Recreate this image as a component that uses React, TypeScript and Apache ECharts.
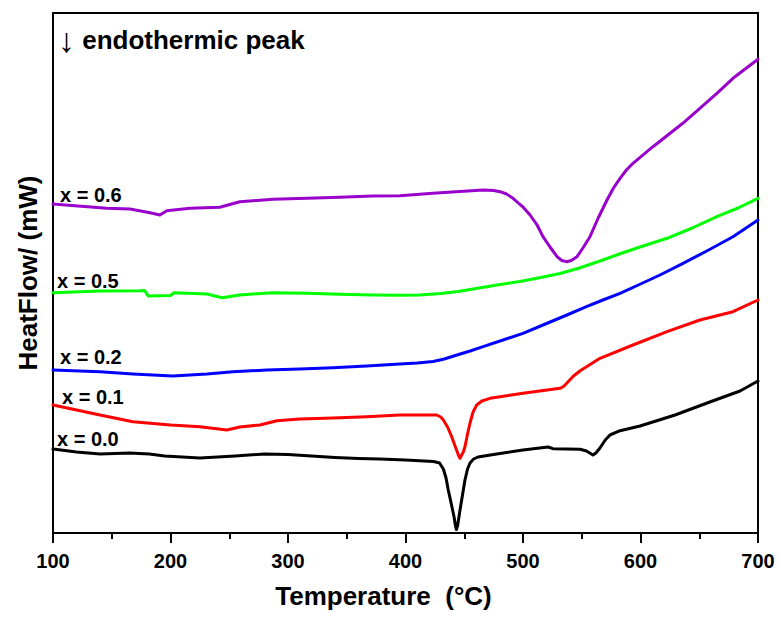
import React, { useEffect, useRef } from "react";
import * as echarts from "echarts";

// Temperature (°C) / heat flow (arbitrary offset units, mW)
const x00: [number, number][] = [
  [100, 8.4], [120, 8.1], [140, 7.9], [165, 8.0], [182, 7.9], [195, 7.7], [210, 7.6], [225, 7.5],
  [240, 7.6], [255, 7.7], [280, 7.9], [300, 7.85], [320, 7.7], [340, 7.55], [360, 7.45], [378, 7.4],
  [400, 7.3], [424, 7.15], [429, 7.0], [432.2, 6.4], [434.5, 5.5], [436.4, 4.3], [439, 2.9],
  [441.3, 1.63], [442.4, 0.8], [443.3, 0.35], [444.3, 0.7], [446.4, 2.3], [448.5, 3.8],
  [450.6, 5.3], [452.8, 6.4], [454.9, 7.0], [458, 7.4], [461.7, 7.6], [477.6, 7.9], [500, 8.3],
  [521.3, 8.6], [525.5, 8.43], [548.5, 8.37], [554, 8.2], [559.6, 7.8], [562, 8.0], [565.5, 8.5],
  [570, 9.3], [574, 9.8], [582.6, 10.23], [599.6, 10.7], [629.4, 11.8], [659, 13.1], [684.7, 14.2],
  [700, 15.2],
];
const x01: [number, number][] = [
  [100, 12.8], [120, 12.3], [140, 11.8], [168, 11.13], [200, 10.8], [225, 10.63], [248, 10.3],
  [259, 10.6], [276, 10.8], [290.6, 11.23], [310, 11.4], [338, 11.5], [367, 11.63], [395, 11.8],
  [426.6, 11.8], [430, 11.6], [432.2, 11.3], [435.8, 10.6], [439.3, 9.63], [442.5, 8.6],
  [445, 7.8], [446.4, 7.47], [447.8, 7.8], [449.2, 8.1], [450.6, 8.63], [452.8, 9.9], [454.9, 11.0],
  [457.5, 12.1], [460.6, 12.8], [465, 13.2], [471.9, 13.47], [500, 13.97], [531.5, 14.47],
  [534.5, 14.65], [537.2, 14.97], [543, 15.7], [549, 16.25], [565.5, 17.47], [593.6, 18.8],
  [622.6, 20.13], [650.6, 21.3], [678.7, 22.13], [700, 23.3],
];
const x02: [number, number][] = [
  [100, 16.3], [140, 16.13], [168, 15.9], [202, 15.7], [231, 15.9], [253, 16.13], [282, 16.3],
  [310, 16.4], [338, 16.53], [367, 16.7], [395, 16.9], [410, 17.0], [423.4, 17.15], [433, 17.4],
  [443.8, 17.8], [455, 18.2], [466, 18.63], [483, 19.3], [500, 19.97], [518, 20.85], [537.4, 21.8],
  [554, 22.63], [568, 23.3], [582.6, 23.97], [600, 24.9], [616.6, 25.8], [636.2, 26.97],
  [658, 28.3], [678.7, 29.63], [700, 31.3],
];
const x05: [number, number][] = [
  [100, 24.03], [140, 24.2], [174, 24.23], [178, 24.25], [181, 23.7], [200, 23.75], [203, 24.03],
  [231, 23.9], [243.8, 23.53], [259, 23.8], [287, 24.03], [316, 23.97], [344, 23.87], [372, 23.8],
  [395, 23.78], [412, 23.8], [430, 23.95], [445, 24.15], [460, 24.45], [478, 24.8], [497.4, 25.15],
  [515, 25.55], [531.5, 25.95], [548, 26.5], [565.5, 27.2], [582, 27.9], [599.6, 28.6],
  [622.6, 29.47], [644, 30.5], [665, 31.63], [683, 32.5], [700, 33.47],
];
const x06: [number, number][] = [
  [100, 32.9], [145.7, 32.47], [165.5, 32.4], [182.6, 32.03], [191, 31.8], [196.8, 32.23],
  [216.6, 32.47], [242, 32.57], [259, 33.13], [287, 33.37], [316, 33.47], [344, 33.57], [372, 33.7],
  [395.3, 33.73], [423.4, 33.97], [466, 34.3], [475, 34.25], [480.4, 34.13], [486, 33.9], [491.5, 33.47],
  [496, 33.0], [500, 32.6], [506, 31.8], [512, 30.8], [517, 29.63], [523, 28.6], [529, 27.63],
  [533, 27.25], [537.4, 27.13], [541, 27.25], [546, 27.63], [551, 28.5], [557, 29.63], [564, 31.5],
  [571.5, 33.3], [577, 34.5], [582.6, 35.47], [588, 36.3], [593.6, 36.97], [610.6, 38.63],
  [636, 40.97], [665, 43.97], [678.7, 45.47], [700, 47.37],
];

const seriesNames = ["x = 0.0", "x = 0.1", "x = 0.2", "x = 0.5", "x = 0.6"];
const seriesData = [x00, x01, x02, x05, x06];
const seriesColors = ["#000000", "#ff0000", "#0000ff", "#00ff00", "#9900cc"];
const labelPos: [number, number][] = [[57, 439], [62, 397], [60, 357], [57, 281], [60, 195]];

const FONT = '"Liberation Sans", Arial, sans-serif';

export default function App() {
  const ref = useRef<HTMLDivElement>(null);
  useEffect(() => {
    if (!ref.current) return;
    const chart = echarts.init(ref.current, undefined, { renderer: "svg" });
    const axisLine = { show: true, onZero: false, lineStyle: { color: "#000", width: 2 } };
    chart.setOption({
      animation: false,
      backgroundColor: "#ffffff",
      grid: { left: 53, right: 23, top: 13, bottom: 84, containLabel: false },
      xAxis: [
        {
          type: "value",
          min: 100,
          max: 700,
          interval: 100,
          position: "bottom",
          name: "Temperature  (°C)",
          nameLocation: "middle",
          nameGap: 50,
          nameTextStyle: {
            fontFamily: FONT,
            fontWeight: "bold",
            fontSize: 26,
            color: "#000",
            padding: [0, 44, 0, 0],
          },
          axisLine,
          axisTick: { show: true, inside: false, length: 10, lineStyle: { color: "#000", width: 2 } },
          minorTick: { show: true, splitNumber: 2, length: 6, lineStyle: { color: "#000", width: 2 } },
          axisLabel: { fontFamily: FONT, fontWeight: "bold", fontSize: 20, color: "#000", margin: 18 },
          splitLine: { show: false },
        },
        {
          type: "value",
          min: 100,
          max: 700,
          interval: 100,
          position: "top",
          axisLine,
          axisTick: { show: false },
          axisLabel: { show: false },
          splitLine: { show: false },
        },
      ],
      yAxis: [
        {
          type: "value",
          min: 0,
          max: 52,
          position: "left",
          name: "HeatFlow/ (mW)",
          nameLocation: "middle",
          nameGap: 12,
          nameTextStyle: { fontFamily: FONT, fontWeight: "bold", fontSize: 26, color: "#000" },
          axisLine,
          axisTick: { show: false },
          axisLabel: { show: false },
          splitLine: { show: false },
        },
        {
          type: "value",
          min: 0,
          max: 52,
          position: "right",
          axisLine,
          axisTick: { show: false },
          axisLabel: { show: false },
          splitLine: { show: false },
        },
      ],
      series: seriesData.map((d, i) => ({
        name: seriesNames[i],
        type: "line",
        data: d,
        showSymbol: false,
        symbol: "none",
        lineStyle: { color: seriesColors[i], width: 3, join: "round", cap: "round" },
        itemStyle: { color: seriesColors[i] },
        z: 2 + i,
      })),
      graphic: [
        {
          type: "text",
          x: 58,
          y: 40,
          style: {
            text: "{a|↓} endothermic peak",
            fontFamily: FONT,
            fontWeight: "bold",
            fontSize: 26,
            fill: "#000",
            textAlign: "left",
            textVerticalAlign: "middle",
            rich: {
              a: {
                fontFamily: FONT,
                fontWeight: "normal",
                fontSize: 34,
                fill: "#000",
                verticalAlign: "middle",
              },
            },
          },
        },
        ...seriesNames.map((n, i) => ({
          type: "text",
          x: labelPos[i][0],
          y: labelPos[i][1],
          style: {
            text: n,
            fontFamily: FONT,
            fontWeight: "bold",
            fontSize: 20,
            fill: "#000",
            textAlign: "left",
            textVerticalAlign: "middle",
          },
        })),
      ],
    });
    return () => chart.dispose();
  }, []);
  return (
    <div
      ref={ref}
      style={{ position: "fixed", left: 0, top: 0, width: 781, height: 617, background: "#fff" }}
    />
  );
}
